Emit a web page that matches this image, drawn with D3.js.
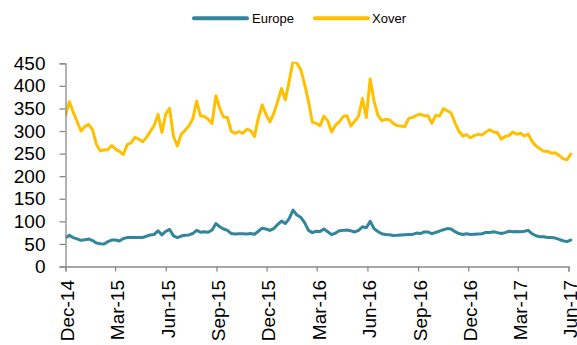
<!DOCTYPE html>
<html>
<head>
<meta charset="utf-8">
<script src="https://cdn.jsdelivr.net/npm/d3@7"></script>
<style>
  html, body { margin: 0; padding: 0; background: #fff; }
  svg { display: block; font-family: "Liberation Sans", Arial, sans-serif; }
</style>
</head>
<body>
<svg id="chart" width="577" height="345"></svg>
<script>
// Weekly observations, first one on 1 Dec 2014
const firstDate = "2014-12-01";
const stepDays = 7;

const seriesNames = ["Europe", "Xover"];
const seriesColors = ["#31859C", "#FFC000"];

const europe = [
  64, 69, 64, 61, 58, 59, 61, 57.5, 52, 50.5,
  50, 55, 58.5, 58.5, 56.5, 62, 64, 64, 64.5, 64.3,
  64.3, 67, 70, 71, 79, 70, 78, 82, 68, 64,
  67.5, 69, 70, 73, 80, 76, 77, 76, 81, 95,
  88, 83, 80, 73, 72, 72.5, 72.5, 72, 73, 71.5,
  78, 85, 83, 80, 84, 93, 100.5, 95, 106, 125,
  114, 109, 97, 80, 75, 78, 77.5, 83, 77, 70.5,
  74, 79, 80, 81, 79, 76.5, 80, 88, 86, 100,
  84, 77.5, 72.5, 71, 70.5, 68.5, 69, 70, 70.5, 71,
  71, 74, 73, 76.5, 76.5, 72.5, 75.5, 78.5, 81.5, 84,
  83, 77, 73, 71, 72.5, 71, 71.5, 72, 72.5, 75.5,
  75.5, 77, 75, 73, 75, 78, 77, 77.5, 77, 78,
  80, 72.5, 68, 66, 66, 64.3, 64, 63, 60, 57,
  55, 58.5
];

const xover = [
  335, 365, 342, 321, 300, 310, 315, 303, 271, 256,
  258, 259, 268, 260, 255, 248, 270, 274, 286, 282,
  276, 286, 299, 313, 337, 297, 338, 350, 288, 267,
  293, 301, 311, 327, 366, 334, 332, 326, 317, 378,
  350, 331, 330, 299, 295, 299, 295, 304, 301, 288,
  328, 358, 337, 320, 339, 365, 394, 369, 410, 455,
  450, 436, 404, 366, 320, 317, 312, 333, 323, 298,
  313, 321, 332, 334, 311, 322, 333, 372, 330, 415,
  367, 335, 323, 326, 325, 317, 312, 311, 310, 328,
  330, 335, 337, 334, 334, 317, 335, 333, 350, 345,
  340, 318, 300, 289, 292, 285, 290, 293, 291, 298,
  303, 298, 297, 282, 288, 290, 298, 293, 295, 289,
  293, 277, 267, 261, 255, 255, 251, 252, 246, 239,
  236, 249
];

const yTicks = [0, 50, 100, 150, 200, 250, 300, 350, 400, 450];
const xTickLabels = ["Dec-14", "Mar-15", "Jun-15", "Sep-15", "Dec-15", "Mar-16",
                     "Jun-16", "Sep-16", "Dec-16", "Mar-17", "Jun-17"];

// ---- layout ----
const svg = d3.select("#chart");
const plot = { left: 65.5, right: 568.5, top: 63.3, bottom: 266.5 };
const axisColor = "#8a8a8a";

const parseDay = d3.timeParse("%Y-%m-%d");
const parseTick = d3.timeParse("%b-%y");
const start = parseDay(firstDate);
const dates = europe.map((_, i) => d3.timeDay.offset(start, i * stepDays));
const tickDates = xTickLabels.map(parseTick);

const x = d3.scaleTime()
  .domain([tickDates[0], tickDates[tickDates.length - 1]])
  .range([plot.left, plot.right]);
const y = d3.scaleLinear()
  .domain([yTicks[0], yTicks[yTicks.length - 1]])
  .range([plot.bottom, plot.top]);

// ---- clip for the plotting area ----
svg.append("defs").append("clipPath").attr("id", "plotClip")
  .append("rect")
  .attr("x", plot.left).attr("y", plot.top - 1.5)
  .attr("width", plot.right - plot.left + 6)
  .attr("height", plot.bottom - plot.top + 1.5);

// ---- lines ----
const line = d3.line()
  .x((d, i) => x(dates[i]))
  .y(d => y(d))
  .curve(d3.curveLinear);

const lines = svg.append("g").attr("clip-path", "url(#plotClip)");
[[xover, seriesColors[1]], [europe, seriesColors[0]]].forEach(([vals, col]) => {
  lines.append("path")
    .datum(vals)
    .attr("d", line)
    .attr("fill", "none")
    .attr("stroke", col)
    .attr("stroke-width", 3)
    .attr("stroke-linejoin", "round")
    .attr("stroke-linecap", "round");
});

// ---- y axis ----
const yAxis = d3.axisLeft(y).tickValues(yTicks).tickSize(6).tickPadding(14)
  .tickFormat(d3.format("d"));
const gy = svg.append("g").attr("transform", `translate(${plot.left},0)`).call(yAxis);
gy.select(".domain").attr("stroke", axisColor).attr("stroke-width", 1.3);
gy.selectAll(".tick line").attr("stroke", axisColor).attr("stroke-width", 1.3);
gy.selectAll(".tick text")
  .attr("font-size", 19)
  .attr("fill", "#000")
  .attr("font-family", "Liberation Sans, Arial, sans-serif");

// ---- x axis ----
const xAxis = d3.axisBottom(x).tickValues(tickDates).tickSize(5)
  .tickFormat((d, i) => xTickLabels[i]);
const gx = svg.append("g").attr("transform", `translate(0,${plot.bottom})`).call(xAxis);
gx.select(".domain").attr("stroke", axisColor).attr("stroke-width", 1.3);
gx.selectAll(".tick line").attr("stroke", axisColor).attr("stroke-width", 1.3);
gx.selectAll(".tick text")
  .attr("font-size", 19)
  .attr("fill", "#000")
  .attr("font-family", "Liberation Sans, Arial, sans-serif")
  .attr("text-anchor", "end")
  .attr("dy", null)
  .attr("y", null)
  .attr("transform", "translate(8.3,13.5) rotate(-90)");

// ---- legend ----
const legendItems = [
  { name: seriesNames[0], color: seriesColors[0], x0: 194, x1: 247, tx: 252 },
  { name: seriesNames[1], color: seriesColors[1], x0: 315, x1: 368, tx: 372 }
];
const legend = svg.append("g");
legendItems.forEach(it => {
  legend.append("line")
    .attr("x1", it.x0).attr("x2", it.x1)
    .attr("y1", 18.3).attr("y2", 18.3)
    .attr("stroke", it.color).attr("stroke-width", 4)
    .attr("stroke-linecap", "round");
  legend.append("text")
    .attr("x", it.tx).attr("y", 23)
    .attr("font-size", 13)
    .attr("fill", "#000")
    .text(it.name);
});
</script>
</body>
</html>
